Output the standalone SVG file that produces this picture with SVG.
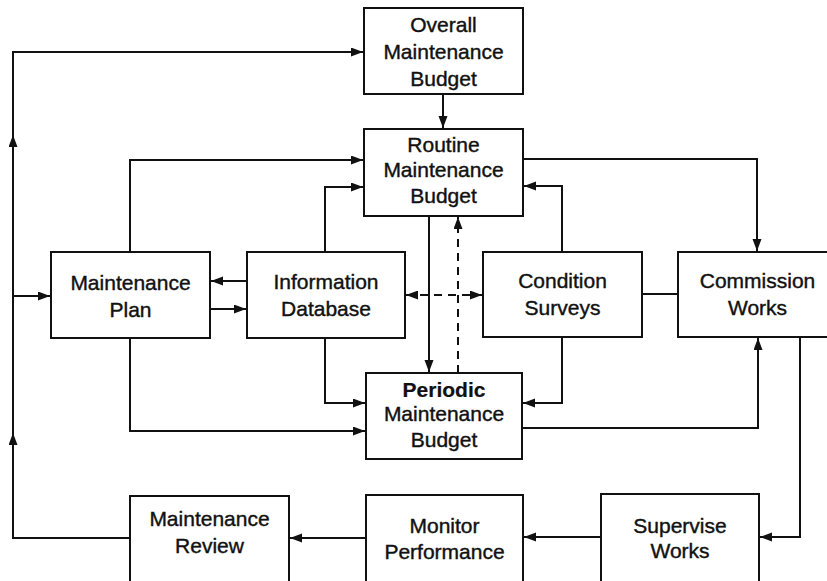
<svg xmlns="http://www.w3.org/2000/svg" width="827" height="581" viewBox="0 0 827 581">
<style>
.box{fill:#fff;stroke:#111;stroke-width:2}
.t{font-family:"Liberation Sans",Arial,sans-serif;font-size:21px;fill:#111;stroke:#111;stroke-width:0.4;text-anchor:middle}
.b{font-weight:bold;stroke-width:0.2}
.c{fill:none;stroke:#111;stroke-width:2}
.d{stroke-dasharray:8 6}
</style>
<defs>
<marker id="ah" markerUnits="userSpaceOnUse" markerWidth="14" markerHeight="10" refX="12" refY="4.5" orient="auto">
<path d="M0,0 L12,4.5 L0,9 z" fill="#111"/>
</marker>
<marker id="as" markerUnits="userSpaceOnUse" markerWidth="14" markerHeight="10" refX="0" refY="4.5" orient="auto">
<path d="M12,0 L0,4.5 L12,9 z" fill="#111"/>
</marker>
</defs>
<rect width="827" height="581" fill="#fff"/>
<g id="connectors">
<path class="c" d="M443,94 V128" marker-end="url(#ah)"/>
<path class="c" d="M130,538 H13 V433" marker-end="url(#ah)"/>
<path class="c" d="M13,433 V135" marker-end="url(#ah)"/>
<path class="c" d="M13,135 V52 H363" marker-end="url(#ah)"/>
<path class="c" d="M13,296 H50" marker-end="url(#ah)"/>
<path class="c" d="M130,252 V160 H363" marker-end="url(#ah)"/>
<path class="c" d="M247,281 H211" marker-end="url(#ah)"/>
<path class="c" d="M210,309 H246" marker-end="url(#ah)"/>
<path class="c" d="M325,252 V187 H363" marker-end="url(#ah)"/>
<path class="c" d="M325,338 V403 H365" marker-end="url(#ah)"/>
<path class="c" d="M130,338 V431 H365" marker-end="url(#ah)"/>
<path class="c d" d="M406,295 H482" marker-start="url(#as)" marker-end="url(#ah)"/>
<path class="c" d="M429,216 V372" marker-end="url(#ah)"/>
<path class="c d" d="M458,373 V217" marker-end="url(#ah)"/>
<path class="c" d="M562,252 V186 H524" marker-end="url(#ah)"/>
<path class="c" d="M523,159 H757 V251" marker-end="url(#ah)"/>
<path class="c" d="M562,337 V403 H523" marker-end="url(#ah)"/>
<path class="c" d="M642,294 H678"/>
<path class="c" d="M522,428 H758 V338" marker-end="url(#ah)"/>
<path class="c" d="M800,337 V537 H760" marker-end="url(#ah)"/>
<path class="c" d="M601,537 H524" marker-end="url(#ah)"/>
<path class="c" d="M366,538 H290" marker-end="url(#ah)"/>
</g>
<g id="overall">
<rect class="box" x="364" y="8" width="159" height="86"/>
<text class="t" x="443.5" y="32">Overall</text>
<text class="t" x="443.5" y="59">Maintenance</text>
<text class="t" x="443.5" y="86">Budget</text>
</g>
<g id="routine">
<rect class="box" x="364" y="129" width="159" height="87"/>
<text class="t" x="443.5" y="152">Routine</text>
<text class="t" x="443.5" y="177">Maintenance</text>
<text class="t" x="443.5" y="203">Budget</text>
</g>
<g id="plan">
<rect class="box" x="51" y="252" width="159" height="86"/>
<text class="t" x="130.5" y="290">Maintenance</text>
<text class="t" x="130.5" y="317">Plan</text>
</g>
<g id="database">
<rect class="box" x="247" y="252" width="158" height="86"/>
<text class="t" x="326" y="289">Information</text>
<text class="t" x="326" y="316">Database</text>
</g>
<g id="condition">
<rect class="box" x="483" y="252" width="159" height="85"/>
<text class="t" x="562.5" y="288">Condition</text>
<text class="t" x="562.5" y="315">Surveys</text>
</g>
<g id="commission">
<rect class="box" x="678" y="252" width="159" height="85"/>
<text class="t" x="757.5" y="288">Commission</text>
<text class="t" x="757.5" y="315">Works</text>
</g>
<g id="periodic">
<rect class="box" x="366" y="373" width="156" height="86"/>
<text class="t b" x="444" y="397">Periodic</text>
<text class="t" x="444" y="421">Maintenance</text>
<text class="t" x="444" y="447">Budget</text>
</g>
<g id="review">
<rect class="box" x="130" y="496" width="159" height="90"/>
<text class="t" x="209.5" y="526">Maintenance</text>
<text class="t" x="209.5" y="553">Review</text>
</g>
<g id="monitor">
<rect class="box" x="366" y="495" width="157" height="91"/>
<text class="t" x="444.5" y="533">Monitor</text>
<text class="t" x="444.5" y="559">Performance</text>
</g>
<g id="supervise">
<rect class="box" x="601" y="494" width="158" height="92"/>
<text class="t" x="680" y="533">Supervise</text>
<text class="t" x="680" y="558">Works</text>
</g>
</svg>
